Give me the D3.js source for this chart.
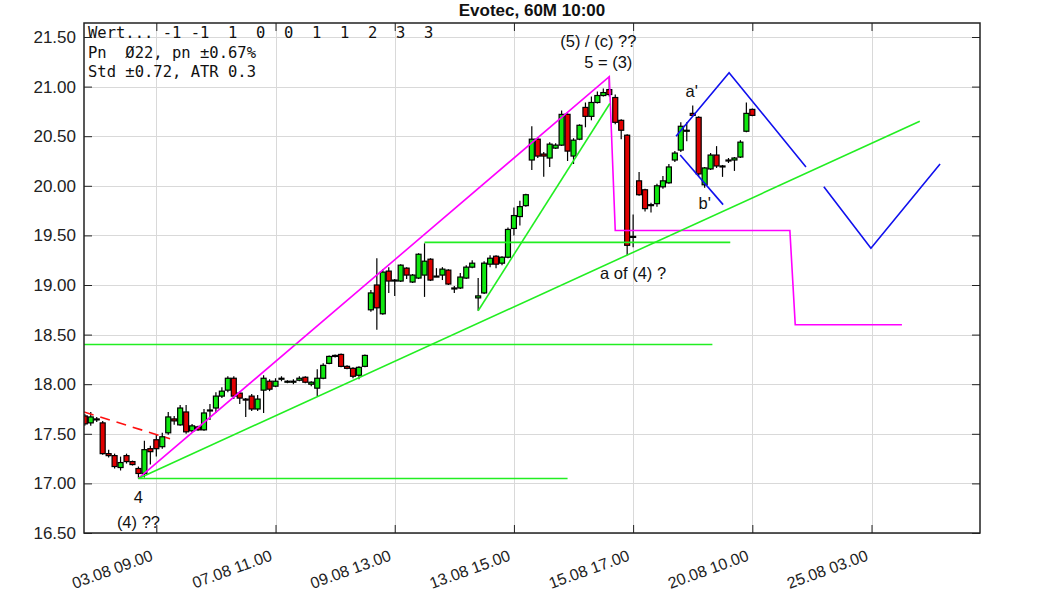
<!DOCTYPE html>
<html><head><meta charset="utf-8">
<script src="https://cdn.jsdelivr.net/npm/d3@7/dist/d3.min.js"></script>
<style>body{margin:0;background:#fff}svg{display:block}</style>
</head><body>
<svg id="c" width="1063" height="591"></svg>
<script>
// ---- data (hourly bars, index based) ----
const open  = [17.68,17.61,17.65,17.61,17.30,17.28,17.16,17.28,17.22,17.15,17.10,17.35,17.44,17.37,17.51,17.65,17.59,17.72,17.53,17.57,17.54,17.73,17.76,17.88,17.94,18.06,17.91,17.85,17.88,17.75,17.94,18.03,17.98,18.05,18.02,18.02,18.04,18.07,18.00,17.96,18.06,18.21,18.28,18.30,18.18,18.16,18.09,18.18,
               18.75,19.00,18.71,19.14,19.04,19.04,19.17,19.03,19.07,19.10,19.26,19.09,19.10,19.15,18.96,18.97,19.07,19.18,18.87,18.92,19.21,19.29,19.22,19.28,19.57,19.69,19.80,
               20.26,20.47,20.32,20.28,20.38,20.41,20.72,20.30,20.47,20.79,20.70,20.84,20.91,20.97,20.89,20.66,20.51,19.49,20.05,19.96,19.81,19.82,19.99,20.03,20.26,20.36,20.55,20.73,20.69,20.01,20.17,20.31,20.20,20.25,20.26,20.29,20.55,20.77];
const high  = [17.70,17.72,17.67,17.63,17.34,17.30,17.27,17.30,17.23,17.17,17.43,17.38,17.49,17.51,17.72,17.68,17.79,17.79,17.60,17.58,17.75,17.80,17.92,17.97,18.08,18.08,17.93,17.86,17.90,17.89,18.09,18.05,18.06,18.08,18.04,18.05,18.08,18.08,18.03,18.15,18.21,18.29,18.30,18.31,18.19,18.17,18.18,18.30,
               18.95,19.27,19.16,19.18,19.06,19.21,19.18,19.11,19.32,19.42,19.27,19.17,19.18,19.16,18.99,19.12,19.20,19.25,19.07,19.24,19.30,19.30,19.29,19.58,19.78,19.85,19.92,
               20.60,20.49,20.34,20.44,20.43,20.76,20.73,20.48,20.62,20.84,20.90,20.95,20.98,21.10,20.92,20.67,20.52,19.71,20.14,19.97,19.83,20.02,20.10,20.22,20.35,20.64,20.64,20.81,20.70,20.19,20.33,20.40,20.21,20.28,20.29,20.46,20.84,20.78];
const low   = [17.58,17.58,17.62,17.29,17.26,17.15,17.13,17.20,17.18,17.05,17.06,17.19,17.27,17.35,17.49,17.59,17.58,17.50,17.51,17.53,17.53,17.64,17.71,17.86,17.92,17.85,17.80,17.67,17.73,17.73,17.71,17.93,17.97,18.03,18.01,18.00,18.03,18.01,17.98,17.88,18.05,18.20,18.27,18.17,18.15,18.06,18.05,18.17,
               18.73,18.55,18.70,18.92,18.89,19.03,19.06,19.02,19.06,18.88,19.04,19.08,19.05,19.00,18.92,18.96,19.06,19.17,18.74,18.91,19.18,19.17,19.20,19.27,19.50,19.60,19.79,
               20.16,20.28,20.09,20.19,20.37,20.40,20.25,20.22,20.46,20.59,20.66,20.83,20.90,20.90,20.62,20.47,19.30,19.38,19.90,19.74,19.73,19.79,19.97,20.02,20.24,20.34,20.45,20.70,20.10,19.98,20.16,20.18,20.09,20.23,20.15,20.28,20.54,20.70];
const close = [17.60,17.67,17.64,17.30,17.28,17.17,17.21,17.22,17.19,17.10,17.34,17.32,17.35,17.47,17.67,17.63,17.76,17.52,17.58,17.54,17.71,17.74,17.88,17.93,18.06,17.88,17.86,17.84,17.75,17.85,18.06,17.95,18.03,18.06,18.03,18.03,18.06,18.02,18.02,18.06,18.19,18.28,18.29,18.18,18.16,18.08,18.17,18.29,
               18.92,18.77,19.13,19.04,19.05,19.20,19.10,19.10,19.31,19.24,19.05,19.09,19.16,19.01,18.97,19.08,19.18,19.22,18.89,19.22,19.27,19.21,19.28,19.56,19.70,19.79,19.91,
               20.47,20.30,20.30,20.42,20.41,20.72,20.35,20.46,20.61,20.70,20.84,20.91,20.94,20.92,20.64,20.56,19.40,19.49,19.91,19.77,19.81,20.00,20.05,20.19,20.33,20.60,20.56,20.71,20.12,20.18,20.31,20.20,20.20,20.26,20.28,20.44,20.73,20.71];

const xTickIdx    = [12, 32, 52, 72, 92, 112, 132];
const xTickLabels = ["03.08 09.00","07.08 11.00","09.08 13.00","13.08 15.00","15.08 17.00","20.08 10.00","25.08 03.00"];
const yTicks      = [16.5, 17.0, 17.5, 18.0, 18.5, 19.0, 19.5, 20.0, 20.5, 21.0, 21.5];

// drawn analysis lines: [bar index, price]
const redDashed   = [[-0.13, 17.72], [14.3, 17.45]];
const magentaPath = [[9, 17.05], [88, 21.10], [89, 19.55], [118.3, 19.55], [119.2, 18.60], [137.1, 18.60]];
const greenFlatLow  = [[9, 17.05], [81, 17.05]];
const greenTrend    = [[9, 17.05], [140.1, 20.65]];
const greenFlatMid  = [[-0.13, 18.40], [105.3, 18.40]];
const greenSteep    = [[66, 18.74], [88.1, 20.83]];
const greenFlatHigh = [[57, 19.43], [108.3, 19.43]];
const blueUpper   = [[99.2, 20.50], [108.1, 21.14], [121, 20.19]];
const blueProj    = [[124, 19.99], [131.9, 19.37], [143.5, 20.22]];
const blueLower   = [[99.9, 20.31], [107.1, 19.81]];

const infoLines = ["Wert... -1 -1  1  0  0  1  1  2  3  3", "Pn  \u00D822, pn \u00B10.67%", "Std \u00B10.72, ATR 0.3"];

// ---- layout ----
const L = 84, R = 980, T = 23, B = 533;
const svg = d3.select("#c");
const x = d3.scaleLinear().domain([-0.134, 150.2]).range([L, R]);
const y = d3.scaleLinear().domain([16.5, 21.5]).range([B, 37]);

svg.append("text").attr("x", 532).attr("y", 16).attr("text-anchor", "middle")
  .attr("font-family", "Liberation Sans, Arial, sans-serif").attr("font-weight", "bold")
  .attr("font-size", 17).attr("fill", "#111").text("Evotec, 60M 10:00");

svg.append("defs").append("clipPath").attr("id", "clip")
  .append("rect").attr("x", L).attr("y", T).attr("width", R - L).attr("height", B - T);

// grid
const grid = svg.append("g").attr("stroke", "#d9d9d9").attr("stroke-width", 1);
grid.selectAll("line.h").data(yTicks).join("line").attr("class", "h")
  .attr("x1", L).attr("x2", R).attr("y1", d => Math.round(y(d)) + 0.5).attr("y2", d => Math.round(y(d)) + 0.5);
grid.selectAll("line.v").data(xTickIdx).join("line").attr("class", "v")
  .attr("y1", T).attr("y2", B).attr("x1", d => Math.round(x(d)) + 0.5).attr("x2", d => Math.round(x(d)) + 0.5);

// info text
svg.append("g").selectAll("text").data(infoLines).join("text")
  .attr("x", 88).attr("y", (d, i) => 38 + i * 19.7)
  .attr("font-family", "DejaVu Sans Mono, monospace").attr("font-size", 15.5).attr("fill", "#111")
  .attr("xml:space", "preserve").style("white-space", "pre").text(d => d);

const plot = svg.append("g").attr("clip-path", "url(#clip)");

// candles
const idx = d3.range(open.length);
const cg = plot.append("g");
cg.selectAll("line").data(idx).join("line")
  .attr("x1", i => x(i)).attr("x2", i => x(i))
  .attr("y1", i => y(high[i])).attr("y2", i => y(low[i]))
  .attr("stroke", "#000").attr("stroke-width", 1.2);
cg.selectAll("rect").data(idx).join("rect")
  .attr("x", i => x(i) - 2.5).attr("width", 5)
  .attr("y", i => y(Math.max(open[i], close[i])))
  .attr("height", i => Math.max(1, Math.abs(y(open[i]) - y(close[i]))))
  .attr("fill", i => close[i] >= open[i] ? "#10e810" : "#e00000")
  .attr("stroke", "#000").attr("stroke-width", 1.2);

// analysis lines
const line = d3.line().x(d => x(d[0])).y(d => y(d[1]));
function path(data, color, dash) {
  plot.append("path").datum(data).attr("d", line).attr("fill", "none")
    .attr("stroke", color).attr("stroke-width", 1.6).attr("stroke-dasharray", dash || null);
}
path(redDashed, "#ff1010", "10,7");
path(magentaPath, "#ff00ff");
path(greenFlatLow, "#22ee22");
path(greenTrend, "#22ee22");
path(greenFlatMid, "#22ee22");
path(greenSteep, "#22ee22");
path(greenFlatHigh, "#22ee22");
path(blueUpper, "#1010ee");
path(blueProj, "#1010ee");
path(blueLower, "#1010ee");

// annotations
const ann = [
  {t: "4", i: 9, p: 17.05, dx: 0, dy: 25},
  {t: "(4) ??", i: 9, p: 17.05, dx: 0, dy: 50},
  {t: "(5) / (c) ??", i: 88, p: 21.10, dx: -11, dy: -30},
  {t: "5 = (3)", i: 88, p: 21.10, dx: -1, dy: -9},
  {t: "a'", i: 102, p: 20.81, dx: -1, dy: -8},
  {t: "b'", i: 104, p: 19.98, dx: 0, dy: 21},
  {t: "a of (4) ?", i: 92, p: 19.30, dx: 0, dy: 24}
];
svg.append("g").selectAll("text").data(ann).join("text")
  .attr("x", d => x(d.i) + d.dx).attr("y", d => y(d.p) + d.dy)
  .attr("text-anchor", "middle").attr("font-family", "Liberation Sans, Arial, sans-serif")
  .attr("font-size", 16.5).attr("fill", "#111").text(d => d.t);

// axes
const font = "Liberation Sans, Arial, sans-serif";
const ax = svg.append("g").attr("transform", `translate(${L},0)`)
  .call(d3.axisLeft(y).tickValues(yTicks).tickSize(-8).tickPadding(8).tickFormat(d3.format(".2f")));
ax.select(".domain").remove();
ax.selectAll("text").attr("font-family", font).attr("font-size", 17).attr("fill", "#222");
ax.selectAll("line").attr("stroke", "#222");

const axR = svg.append("g").attr("transform", `translate(${R},0)`)
  .call(d3.axisRight(y).tickValues(yTicks).tickSize(-8).tickFormat(""));
axR.select(".domain").remove(); axR.selectAll("line").attr("stroke", "#222");

const axB = svg.append("g").attr("transform", `translate(0,${B})`)
  .call(d3.axisBottom(x).tickValues(xTickIdx).tickSize(-8).tickFormat((d, k) => xTickLabels[k]));
axB.select(".domain").remove();
axB.selectAll("line").attr("stroke", "#222");
axB.selectAll("text").attr("font-family", font).attr("font-size", 16).attr("fill", "#222")
  .attr("y", 0).attr("dy", null).attr("x", 0).attr("text-anchor", "end")
  .attr("transform", "translate(-3,27) rotate(-20)");

const axT = svg.append("g").attr("transform", `translate(0,${T})`)
  .call(d3.axisTop(x).tickValues(xTickIdx).tickSize(-8).tickFormat(""));
axT.select(".domain").remove(); axT.selectAll("line").attr("stroke", "#222");

// frame
svg.append("rect").attr("x", L).attr("y", T).attr("width", R - L).attr("height", B - T)
  .attr("fill", "none").attr("stroke", "#222").attr("stroke-width", 1.5);
</script>
</body></html>
